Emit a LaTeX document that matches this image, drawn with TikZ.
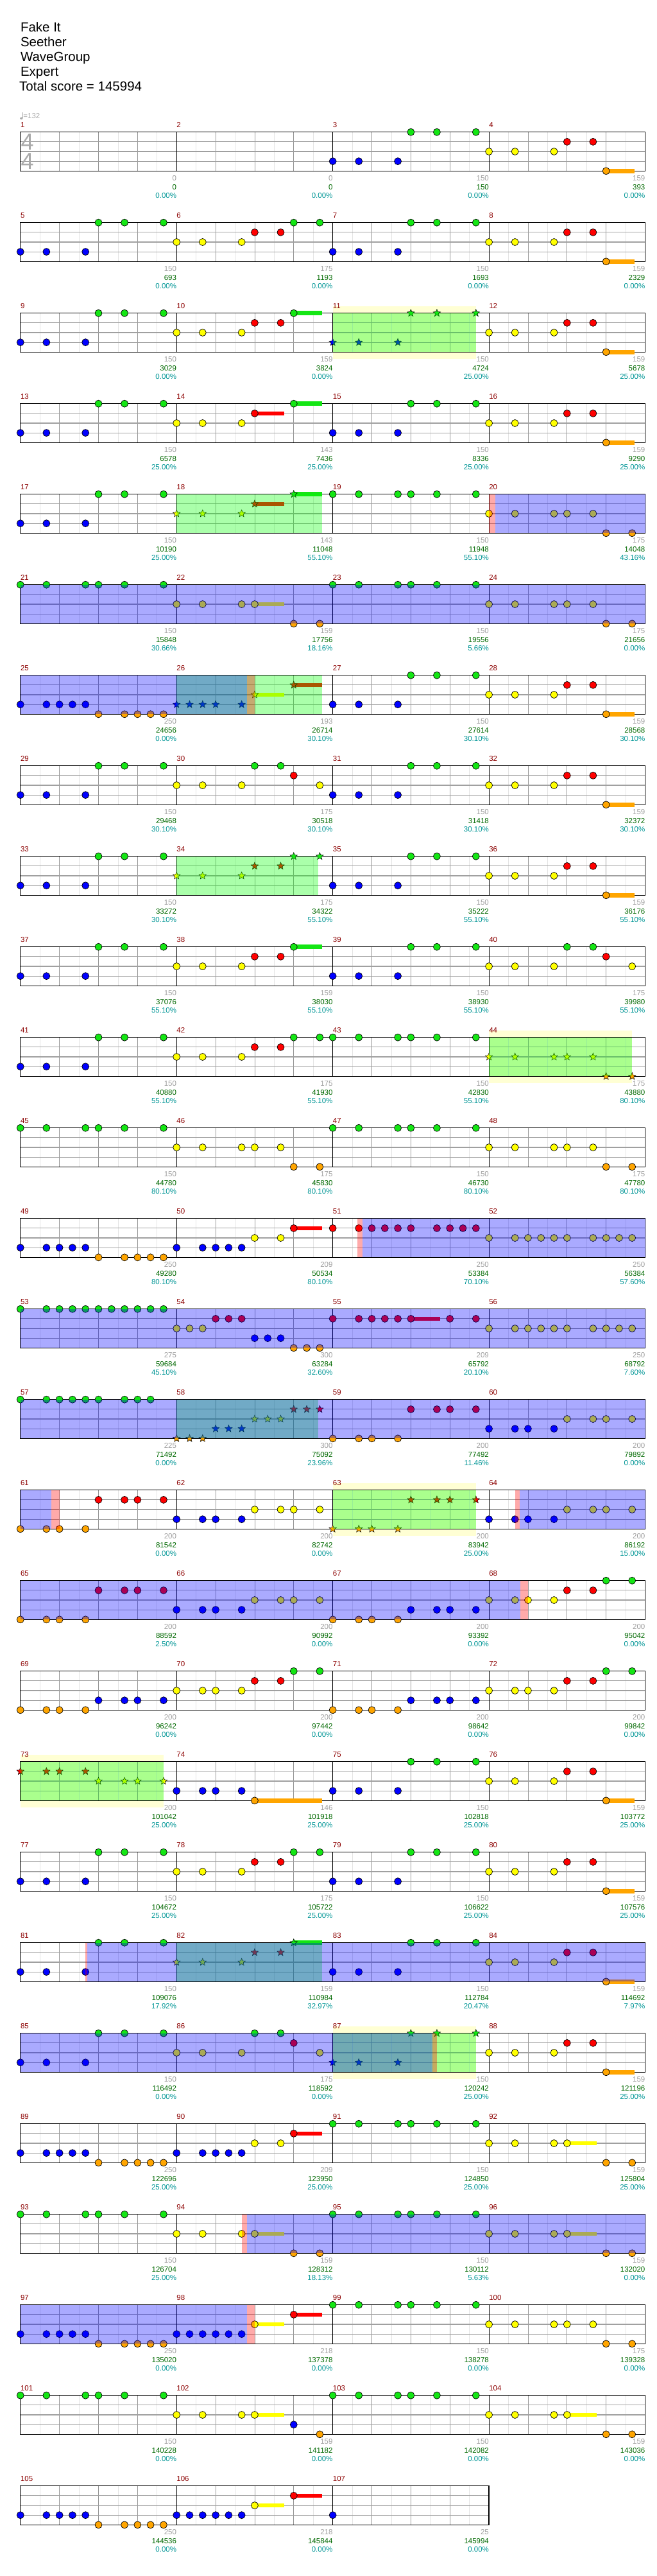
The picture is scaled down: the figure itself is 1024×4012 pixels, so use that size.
\documentclass[tikz,border=0pt]{standalone}
\usepackage{fontspec}
\setmainfont{Liberation Sans}
\usetikzlibrary{shapes.geometric}
\definecolor{lane0}{RGB}{20,230,20}
\definecolor{lane1}{RGB}{255,0,0}
\definecolor{lane2}{RGB}{255,255,0}
\definecolor{lane3}{RGB}{0,0,255}
\definecolor{lane4}{RGB}{255,165,0}
\definecolor{mred}{RGB}{140,0,0}
\definecolor{gnum}{RGB}{160,160,160}
\definecolor{snum}{RGB}{0,105,0}
\definecolor{pnum}{RGB}{0,150,150}
\definecolor{bandy}{RGB}{255,255,212}
\definecolor{lightg}{RGB}{228,228,228}
\definecolor{midg}{RGB}{150,150,150}
\definecolor{laneg}{RGB}{160,160,160}
\definecolor{tsg}{RGB}{170,170,170}
\definecolor{spgr}{RGB}{0,255,0}
\definecolor{spbl}{RGB}{0,0,255}
\definecolor{sppk}{RGB}{255,0,0}
\newcommand\smallfnt{\fontsize{11.5}{13}\selectfont}
\newcommand\hdrfnt{\fontsize{20.5}{24}\selectfont}
\tikzset{
  note/.style={circle,draw=black,line width=0.7pt,minimum size=11pt,inner sep=0pt},
  starnote/.style={star,star points=5,star point ratio=2.3,draw=black,line width=0.5pt,minimum size=12pt,inner sep=0pt},
  mlab/.style={font=\smallfnt,text=mred,anchor=base west,inner sep=0pt},
  gn/.style={font=\smallfnt,text=gnum,anchor=base east,inner sep=0pt},
  sn/.style={font=\smallfnt,text=snum,anchor=base east,inner sep=0pt},
  pn/.style={font=\smallfnt,text=pnum,anchor=base east,inner sep=0pt},
  hdr/.style={font=\hdrfnt,anchor=base west,inner sep=0pt}
}
% #1 row, #2 first measure, #3 number of measures, #4 grey/score/percent triples
\newcommand\staff[4]{%
  \pgfmathsetmacro\rowT{205.7+141*(#1-1)}%
  \pgfmathsetmacro\rowW{#3*243.425}%
  \pgfmathtruncatemacro\NE{8*#3-1}%
  \pgfmathtruncatemacro\NQ{4*#3}%
  \pgfmathtruncatemacro\NMm{#3-1}%
  \foreach \j in {1,3,...,\NE} \draw[lightg,line width=0.8pt] ({31.8+\j*30.428},\rowT) -- ++(0,60.6);
  \foreach \j in {1,...,\NQ} \draw[midg,line width=0.8pt] ({31.8+\j*60.856},\rowT) -- ++(0,60.6);
  \foreach \l in {1,2,3} \draw[laneg,line width=1.1pt] (31.8,{\rowT+15.15*\l}) -- ++(\rowW,0);
  \foreach \j in {1,...,#3} \draw[black,line width=0.8pt] ({31.8+\j*243.425},\rowT) -- ++(0,60.6);
  \draw[black,line width=1.2pt] (31.8,\rowT) rectangle ++(\rowW,60.6);
  \foreach \j in {0,...,\NMm} {\pgfmathtruncatemacro\mm{#2+\j}%
    \node[mlab] (m\mm) at ({31.8+\j*243.425},{\rowT-7.7}) {\mm};}
  \foreach \g/\s/\p [count=\j] in {#4} {%
    \node[gn] (g#1-\j) at ({31.8+\j*243.425},{\rowT+76}) {\g};
    \node[sn] (s#1-\j) at ({31.8+\j*243.425},{\rowT+89.3}) {\s};
    \node[pn] (p#1-\j) at ({31.8+\j*243.425},{\rowT+102.6}) {\p\%};}
}
\newcommand\cn[3]{\pgfmathsetmacro\rowT{205.7+141*(#1-1)}%
  \foreach \s in {#3} {\node[note,fill=lane#2] (c#1-#2-\s) at ({31.8+\s*20.2854},{\rowT+15.15*#2}) {};}}
\newcommand\sn[3]{\pgfmathsetmacro\rowT{205.7+141*(#1-1)}%
  \foreach \s in {#3} {\node[starnote,fill=lane#2] (st#1-#2-\s) at ({31.8+\s*20.2854},{\rowT+15.15*#2}) {};}}
\newcommand\su[4]{\pgfmathsetmacro\rowT{205.7+141*(#1-1)}%
  \fill[lane#2] ({31.8+#3*20.2854},{\rowT+15.15*#2-3.3}) rectangle ({31.8+#4*20.2854},{\rowT+15.15*#2+3.3});}
\newcommand\ov[4]{\pgfmathsetmacro\rowT{205.7+141*(#1-1)}%
  \fill[#2,fill opacity=0.333] ({31.8+#3*20.2854},\rowT) rectangle ({31.8+#4*20.2854},{\rowT+60.6});}
\newcommand\band[3]{\pgfmathsetmacro\rowT{205.7+141*(#1-1)}%
  \fill[bandy] ({31.8+#2*20.2854},{\rowT-10.5}) rectangle ({31.8+#3*20.2854},{\rowT+71.1});}
\begin{document}
\begin{tikzpicture}[x=1pt,y=-1pt]
\fill[white] (0,0) rectangle (1024,4012);
\useasboundingbox (0,0) rectangle (1024,4012);
% header
\node[hdr] (title) at (31.8,49) {Fake It};
\node[hdr] (artist) at (31.8,72.3) {Seether};
\node[hdr] (author) at (31.8,95.5) {WaveGroup};
\node[hdr] (diff) at (31.8,118.6) {Expert};
\node[hdr] (total) at (30,141.8) {Total score = 145994};
% row 1
\staff{1}{1}{4}{0/0/0.00,0/0/0.00,150/150/0.00,159/393/0.00}
\node[font=\fontsize{36}{36}\selectfont,text=tsg,inner sep=0pt] (ts1) at (42.6,221) {4};
\node[font=\fontsize{36}{36}\selectfont,text=tsg,inner sep=0pt] (ts2) at (42.6,251) {4};
\fill[tsg] (33.3,184.3) ellipse (2.2 and 1.8);
\draw[tsg,line width=0.6pt] (35.3,184) -- (35.3,174.5);
\node[font=\smallfnt,text=tsg,anchor=west,inner sep=0pt] (tempo) at (36.2,181) {=132};
\su{1}{4}{45}{47.2}
\cn{1}{3}{24,26,29}\cn{1}{0}{30,32,35}\cn{1}{2}{36,38,41}\cn{1}{1}{42,44}\cn{1}{4}{45}
% row 2
\staff{2}{5}{4}{150/693/0.00,175/1193/0.00,150/1693/0.00,159/2329/0.00}
\su{2}{4}{45}{47.2}
\cn{2}{3}{0,2,5,24,26,29}\cn{2}{0}{6,8,11,21,23,30,32,35}\cn{2}{2}{12,14,17,36,38,41}\cn{2}{1}{18,20,42,44}\cn{2}{4}{45}
% row 3
\band{3}{24}{35}
\staff{3}{9}{4}{150/3029/0.00,159/3824/0.00,150/4724/25.00,159/5678/25.00}
\su{3}{0}{21}{23.2}\su{3}{4}{45}{47.2}
\cn{3}{3}{0,2,5}\cn{3}{0}{6,8,11,21}\cn{3}{2}{12,14,17,36,38,41}\cn{3}{1}{18,20,42,44}\cn{3}{4}{45}
\sn{3}{3}{24,26,29}\sn{3}{0}{30,32,35}
\ov{3}{spgr}{24}{35}
% row 4
\staff{4}{13}{4}{150/6578/25.00,143/7436/25.00,150/8336/25.00,159/9290/25.00}
\su{4}{1}{18}{20.25}\su{4}{0}{21}{23.2}\su{4}{4}{45}{47.2}
\cn{4}{3}{0,2,5,24,26,29}\cn{4}{0}{6,8,11,21,30,32,35}\cn{4}{2}{12,14,17,36,38,41}\cn{4}{1}{18,42,44}\cn{4}{4}{45}
% row 5
\staff{5}{17}{4}{150/10190/25.00,143/11048/55.10,150/11948/55.10,175/14048/43.16}
\su{5}{1}{18}{20.25}\su{5}{0}{21}{23.2}
\cn{5}{3}{0,2,5}\cn{5}{0}{6,8,11,24,26,29,30,32,35}\cn{5}{2}{36,38,41,42,44}\cn{5}{4}{45,47}
\sn{5}{2}{12,14,17}\sn{5}{1}{18}\sn{5}{0}{21}
\ov{5}{spgr}{12}{23.2}\ov{5}{sppk}{36}{36.5}\ov{5}{spbl}{36.5}{48}
% row 6
\staff{6}{21}{4}{150/15848/30.66,159/17756/18.16,150/19556/5.66,175/21656/0.00}
\su{6}{2}{18}{20.25}
\cn{6}{0}{0,2,5,6,8,11,24,26,29,30,32,35}\cn{6}{2}{12,14,17,18,36,38,41,42,44}\cn{6}{4}{21,23,45,47}
\ov{6}{spbl}{0}{48}
% row 7
\staff{7}{25}{4}{250/24656/0.00,193/26714/30.10,150/27614/30.10,159/28568/30.10}
\su{7}{2}{18}{20.25}\su{7}{1}{21}{23.2}\su{7}{4}{45}{47.2}
\cn{7}{3}{0,2,3,4,5,24,26,29}\cn{7}{4}{6,8,9,10,11,45}\cn{7}{0}{30,32,35}\cn{7}{2}{36,38,41}\cn{7}{1}{42,44}
\sn{7}{3}{12,13,14,15,17}\sn{7}{2}{18}\sn{7}{1}{21}
\ov{7}{spgr}{12}{23.2}\ov{7}{spbl}{0}{17.4}\ov{7}{sppk}{17.4}{18}
% row 8
\staff{8}{29}{4}{150/29468/30.10,175/30518/30.10,150/31418/30.10,159/32372/30.10}
\su{8}{4}{45}{47.2}
\cn{8}{3}{0,2,5,24,26,29}\cn{8}{0}{6,8,11,18,20,30,32,35}\cn{8}{2}{12,14,17,23,36,38,41}\cn{8}{1}{21,42,44}\cn{8}{4}{45}
% row 9
\staff{9}{33}{4}{150/33272/30.10,175/34322/55.10,150/35222/55.10,159/36176/55.10}
\su{9}{4}{45}{47.2}
\cn{9}{3}{0,2,5,24,26,29}\cn{9}{0}{6,8,11,30,32,35}\cn{9}{2}{36,38,41}\cn{9}{1}{42,44}\cn{9}{4}{45}
\sn{9}{2}{12,14,17}\sn{9}{1}{18,20}\sn{9}{0}{21,23}
\ov{9}{spgr}{12}{22.9}
% row 10
\staff{10}{37}{4}{150/37076/55.10,159/38030/55.10,150/38930/55.10,175/39980/55.10}
\su{10}{0}{21}{23.2}
\cn{10}{3}{0,2,5,24,26,29}\cn{10}{0}{6,8,11,21,30,32,35,42,44}\cn{10}{2}{12,14,17,36,38,41,47}\cn{10}{1}{18,20,45}
% row 11
\band{11}{36}{47}
\staff{11}{41}{4}{150/40880/55.10,175/41930/55.10,150/42830/55.10,175/43880/80.10}
\cn{11}{3}{0,2,5}\cn{11}{0}{6,8,11,21,23,24,26,29,30,32,35}\cn{11}{2}{12,14,17}\cn{11}{1}{18,20}
\sn{11}{2}{36,38,41,42,44}\sn{11}{4}{45,47}
\ov{11}{spgr}{36}{47}
% row 12
\staff{12}{45}{4}{150/44780/80.10,175/45830/80.10,150/46730/80.10,175/47780/80.10}
\cn{12}{0}{0,2,5,6,8,11,24,26,29,30,32,35}\cn{12}{2}{12,14,17,18,20,36,38,41,42,44}\cn{12}{4}{21,23,45,47}
% row 13
\staff{13}{49}{4}{250/49280/80.10,209/50534/80.10,250/53384/70.10,250/56384/57.60}
\su{13}{1}{21}{23.2}
\cn{13}{3}{0,2,3,4,5,12,14,15,16,17}\cn{13}{4}{6,8,9,10,11}\cn{13}{2}{18,20,36,38,39,40,41,42,44,45,46,47}\cn{13}{1}{21,24,26,27,28,29,30,32,33,34,35}
\ov{13}{sppk}{25.9}{26.3}\ov{13}{spbl}{26.3}{48}
% row 14
\staff{14}{53}{4}{275/59684/45.10,300/63284/32.60,209/65792/20.10,250/68792/7.60}
\su{14}{1}{30}{32.25}
\cn{14}{0}{0,2,3,4,5,6,7,8,9,10,11}\cn{14}{2}{12,13,14,36,38,39,40,41,42,44,45,46,47}\cn{14}{1}{15,16,17,24,26,27,28,29,30,33,35}\cn{14}{3}{18,19,20}\cn{14}{4}{21,22,23}
\ov{14}{spbl}{0}{48}
% row 15
\staff{15}{57}{4}{225/71492/0.00,300/75092/23.96,200/77492/11.46,200/79892/0.00}
\cn{15}{0}{0,2,3,4,5,6,8,9,10}\cn{15}{4}{24,26,27,29}\cn{15}{1}{30,32,33,35}\cn{15}{3}{36,38,39,41}\cn{15}{2}{42,44,45,47}
\sn{15}{4}{12,13,14}\sn{15}{3}{15,16,17}\sn{15}{2}{18,19,20}\sn{15}{1}{21,22,23}
\ov{15}{spgr}{12}{22.9}\ov{15}{spbl}{0}{48}
% row 16
\band{16}{24}{35}
\staff{16}{61}{4}{200/81542/0.00,200/82742/0.00,200/83942/25.00,200/86192/15.00}
\cn{16}{4}{0,2,3,5}\cn{16}{1}{6,8,9,11}\cn{16}{3}{12,14,15,17,36,38,39,41}\cn{16}{2}{18,20,21,23,42,44,45,47}
\sn{16}{4}{24,26,27,29}\sn{16}{1}{30,32,33,35}
\ov{16}{spbl}{0}{2.4}\ov{16}{sppk}{2.4}{3}\ov{16}{spgr}{24}{35}\ov{16}{sppk}{38}{38.35}\ov{16}{spbl}{38.35}{48}
% row 17
\staff{17}{65}{4}{200/88592/2.50,200/90992/0.00,200/93392/0.00,200/95042/0.00}
\cn{17}{4}{0,2,3,5,24,26,27,29}\cn{17}{1}{6,8,9,11,42,44}\cn{17}{3}{12,14,15,17,30,32,33,35}\cn{17}{2}{18,20,21,23,36,38,39,41}\cn{17}{0}{45,47}
\ov{17}{spbl}{0}{38.4}\ov{17}{sppk}{38.4}{39}
% row 18
\staff{18}{69}{4}{200/96242/0.00,200/97442/0.00,200/98642/0.00,200/99842/0.00}
\cn{18}{4}{0,2,3,5,24,26,27,29}\cn{18}{3}{6,8,9,11,30,32,33,35}\cn{18}{2}{12,14,15,17,36,38,39,41}\cn{18}{1}{18,20,42,44}\cn{18}{0}{21,23,45,47}
% row 19
\band{19}{0}{11}
\staff{19}{73}{4}{200/101042/25.00,146/101918/25.00,150/102818/25.00,159/103772/25.00}
\su{19}{4}{18}{23.2}\su{19}{4}{45}{47.2}
\cn{19}{3}{12,14,15,17,24,26,29}\cn{19}{4}{18,45}\cn{19}{0}{30,32,35}\cn{19}{2}{36,38,41}\cn{19}{1}{42,44}
\sn{19}{1}{0,2,3,5}\sn{19}{2}{6,8,9,11}
\ov{19}{spgr}{0}{11}
% row 20
\staff{20}{77}{4}{150/104672/25.00,175/105722/25.00,150/106622/25.00,159/107576/25.00}
\su{20}{4}{45}{47.2}
\cn{20}{3}{0,2,5,24,26,29}\cn{20}{0}{6,8,11,21,23,30,32,35}\cn{20}{2}{12,14,17,36,38,41}\cn{20}{1}{18,20,42,44}\cn{20}{4}{45}
% row 21
\staff{21}{81}{4}{150/109076/17.92,159/110984/32.97,150/112784/20.47,159/114692/7.97}
\su{21}{0}{21}{23.2}\su{21}{4}{45}{47.2}
\cn{21}{3}{0,2,5,24,26,29}\cn{21}{0}{6,8,11,30,32,35}\cn{21}{2}{36,38,41}\cn{21}{1}{42,44}\cn{21}{4}{45}
\sn{21}{2}{12,14,17}\sn{21}{1}{18,20}\sn{21}{0}{21}
\ov{21}{spgr}{12}{23.2}\ov{21}{sppk}{5}{5.16}\ov{21}{spbl}{5.16}{48}
% row 22
\band{22}{24}{35}
\staff{22}{85}{4}{150/116492/0.00,175/118592/0.00,150/120242/25.00,159/121196/25.00}
\su{22}{4}{45}{47.2}
\cn{22}{3}{0,2,5}\cn{22}{0}{6,8,11,18,20}\cn{22}{2}{12,14,17,23,36,38,41}\cn{22}{1}{21,42,44}\cn{22}{4}{45}
\sn{22}{3}{24,26,29}\sn{22}{0}{30,32,35}
\ov{22}{spgr}{24}{35}\ov{22}{spbl}{0}{31.67}\ov{22}{sppk}{31.67}{32}
% row 23
\staff{23}{89}{4}{250/122696/25.00,209/123950/25.00,150/124850/25.00,159/125804/25.00}
\su{23}{1}{21}{23.2}\su{23}{2}{42}{44.3}
\cn{23}{3}{0,2,3,4,5,12,14,15,16,17}\cn{23}{4}{6,8,9,10,11,45,47}\cn{23}{2}{18,20,36,38,41,42}\cn{23}{1}{21}\cn{23}{0}{24,26,29,30,32,35}
% row 24
\staff{24}{93}{4}{150/126704/25.00,159/128312/18.13,150/130112/5.63,159/132020/0.00}
\su{24}{2}{18}{20.25}\su{24}{2}{42}{44.3}
\cn{24}{0}{0,2,5,6,8,11,24,26,29,30,32,35}\cn{24}{2}{12,14,17,18,36,38,41,42}\cn{24}{4}{21,23,45,47}
\ov{24}{sppk}{17}{17.4}\ov{24}{spbl}{17.4}{48}
% row 25
\staff{25}{97}{4}{250/135020/0.00,218/137378/0.00,150/138278/0.00,175/139328/0.00}
\su{25}{2}{18}{20.25}\su{25}{1}{21}{23.2}
\cn{25}{3}{0,2,3,4,5,12,13,14,15,16,17}\cn{25}{4}{6,8,9,10,11,45,47}\cn{25}{2}{18,36,38,41,42,44}\cn{25}{1}{21}\cn{25}{0}{24,26,29,30,32,35}
\ov{25}{spbl}{0}{17.4}\ov{25}{sppk}{17.4}{18}
% row 26
\staff{26}{101}{4}{150/140228/0.00,159/141182/0.00,150/142082/0.00,159/143036/0.00}
\su{26}{2}{18}{20.25}\su{26}{2}{42}{44.3}
\cn{26}{0}{0,2,5,6,8,11,24,26,29,30,32,35}\cn{26}{2}{12,14,17,18,36,38,41,42}\cn{26}{3}{21}\cn{26}{4}{23,45,47}
% row 27
\staff{27}{105}{3}{250/144536/0.00,218/145844/0.00,25/145994/0.00}
\su{27}{2}{18}{20.25}\su{27}{1}{21}{23.2}
\cn{27}{3}{0,2,3,4,5,12,13,14,15,16,17,24}\cn{27}{4}{6,8,9,10,11}\cn{27}{2}{18}\cn{27}{1}{21}
\end{tikzpicture}
\end{document}
